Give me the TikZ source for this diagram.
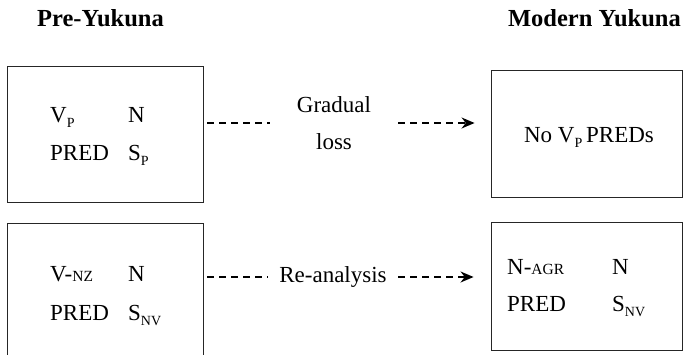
\documentclass[tikz,border=0pt]{standalone}
\usepackage{fontspec}
\setmainfont{Liberation Serif}
\usetikzlibrary{arrows.meta}
\newcommand{\subsc}[1]{\raisebox{-5pt}{\fontsize{14}{14}\selectfont #1}}
\newcommand{\fsc}[1]{{\fontsize{15.5}{15.5}\selectfont #1}}
\begin{document}
\begin{tikzpicture}[x=1pt,y=-1pt,
  box/.style={draw=black!85,line width=0.9pt,inner sep=0pt},
  txt/.style={inner sep=0pt,anchor=base west,font=\fontsize{23}{27}\selectfont},
  head/.style={inner sep=0pt,font=\fontsize{24.5}{28}\selectfont\bfseries},
  lbl/.style={inner sep=0pt,font=\fontsize{23}{37}\selectfont,align=center},
  dl/.style={line width=1.6pt,dash pattern=on 7pt off 5pt},
  da/.style={dl,-{Stealth[length=13pt,width=11pt]}}]
\useasboundingbox (0,0) rectangle (683,355);
% headings
\node[head,anchor=base west] (h1) at (37,27) {Pre-Yukuna};
\node[head,anchor=base east] (h2) at (681,27) {Modern Yukuna};
% boxes
\node[box,minimum width=196pt,minimum height=136pt] (tl) at (105,134) {};
\node[box,minimum width=196pt,minimum height=137pt] (bl) at (105,291.5) {};
\node[box,minimum width=191pt,minimum height=127pt] (tr) at (586.5,133.5) {};
\node[box,minimum width=191pt,minimum height=128pt] (br) at (586.5,286) {};
% top-left contents
\node[txt] (t1) at (50,123) {V\subsc{P}};
\node[txt] (t2) at (128,123) {N};
\node[txt] (t3) at (50,161) {PRED};
\node[txt] (t4) at (128,161) {S\subsc{P}};
% bottom-left contents
\node[txt] (b1) at (50,282) {V-\fsc{NZ}};
\node[txt] (b2) at (128,282) {N};
\node[txt] (b3) at (50,321) {PRED};
\node[txt] (b4) at (128,321) {S\subsc{NV}};
% top-right contents
\node[txt,anchor=base] (r1) at (589,143) {No V\subsc{P}\,PREDs};
% bottom-right contents
\node[txt] (s1) at (507,275) {N-\fsc{AGR}};
\node[txt] (s2) at (612,275) {N};
\node[txt] (s3) at (507,312) {PRED};
\node[txt] (s4) at (612,312) {S\subsc{NV}};
% connector labels
\node[lbl,minimum width=128pt] (gl) at (334,123) {Gradual\\loss};
\node[lbl,minimum width=130pt] (ra) at (333,277) {Re-analysis};
% connectors
\draw[dl,shorten <=4pt] (tl.east |- gl.west) -- (gl.west);
\draw[da,shorten >=16pt] (gl.east) -- (tr.west |- gl.east);
\draw[dl,shorten <=4pt] (bl.east |- ra.west) -- (ra.west);
\draw[da,shorten >=17pt] (ra.east) -- (br.west |- ra.east);
\end{tikzpicture}
\end{document}
